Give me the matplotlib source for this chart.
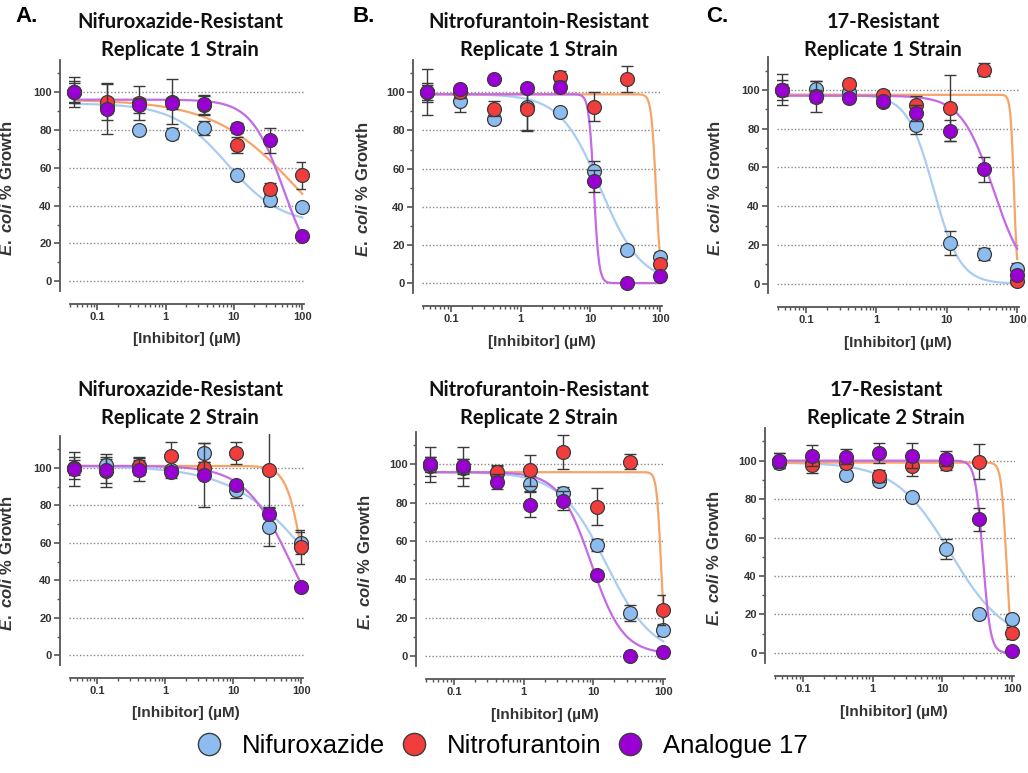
import numpy as np
import matplotlib

matplotlib.use("Agg")
import matplotlib.pyplot as plt
from matplotlib.ticker import FixedLocator, LogLocator, NullFormatter, FixedFormatter
from matplotlib.lines import Line2D

plt.rcParams["font.family"] = ["Liberation Sans", "DejaVu Sans"]
plt.rcParams["mathtext.fontset"] = "custom"
plt.rcParams["mathtext.it"] = "Liberation Sans:italic:bold"
plt.rcParams["mathtext.rm"] = "Liberation Sans:bold"

# 3-fold dilution series (uM)
conc = [0.0457, 0.137, 0.412, 1.23, 3.70, 11.1, 33.3, 100]

compounds = ["Nifuroxazide", "Nitrofurantoin", "Analogue 17"]
marker_colors = ["#8dbdf0", "#f23d3d", "#9a00d4"]
curve_colors = ["#a9cdf2", "#f7a468", "#c46ae4"]

titles = [
    "Nifuroxazide-Resistant\nReplicate 1 Strain",
    "Nitrofurantoin-Resistant\nReplicate 1 Strain",
    "17-Resistant\nReplicate 1 Strain",
    "Nifuroxazide-Resistant\nReplicate 2 Strain",
    "Nitrofurantoin-Resistant\nReplicate 2 Strain",
    "17-Resistant\nReplicate 2 Strain",
]
letters = ["A.", "B.", "C."]

# % growth means and SD, order: Nifuroxazide, Nitrofurantoin, Analogue 17
a1_mean = [[100, 92, 80, 78, 81, 56, 43, 39],
           [100, 95, 94, 95, 93, 72, 49, 56],
           [100, 91, 93, 94, 93.5, 81, 74.5, 24]]
a1_sd = [[6, 3, 2, 3, 3.5, 2, 3, 2],
         [5, 10, 9, 12, 5, 4, 3, 7],
         [8, 13, 4, 3, 5, 2.5, 6.5, 2]]
b1_mean = [[100, 95.5, 86, 92.5, 89.5, 59, 17.5, 13.5],
           [100, 100, 91.5, 91.5, 108, 92.5, 107, 10],
           [100, 101.5, 107, 102.5, 103, 53.5, 0, 3.5]]
b1_sd = [[4, 6, 2, 12, 2, 5, 2, 3],
         [12, 3, 4, 12, 3, 7.5, 7, 2],
         [5, 2, 1, 2, 3, 6, 1, 2]]
c1_mean = [[100, 100.5, 99, 94, 82, 21, 15.5, 7.7],
           [100, 97, 103, 97.5, 92, 90.5, 110.5, 1.5],
           [100, 96.5, 96, 94.5, 88, 79, 59, 4.5]]
c1_sd = [[8, 4, 2, 2, 5, 6, 3, 3],
         [5, 3, 2, 2, 5, 17, 3.5, 2],
         [3, 8, 2, 2, 4, 5.5, 6.5, 2]]
a2_mean = [[100, 101.5, 101, 99, 108, 88, 68.5, 60],
           [100, 98.5, 101, 106.5, 100, 108, 99, 58],
           [99.5, 99, 99, 97.5, 96, 91, 75.5, 36.5]]
a2_sd = [[6, 3, 3, 2, 5, 4, 10, 6],
         [4, 9, 5, 7, 3, 6, 20, 9],
         [9, 7, 6, 3, 17, 2, 3, 2]]
b2_mean = [[99, 98, 95.5, 90, 85, 58, 22.5, 13.5],
           [100, 99, 96, 97, 106.5, 78, 101.5, 24],
           [100, 99, 91, 79, 81, 42.5, 0, 2]]
b2_sd = [[5, 5, 4, 4, 3, 3, 4, 3],
         [4, 4, 3, 8, 9, 9.5, 4, 8],
         [9, 10, 4, 6.5, 5, 2, 1, 2]]
c2_mean = [[99, 99, 92.5, 89.5, 81, 54, 20, 17.5],
           [100, 97.5, 99, 92, 97, 98, 99.5, 10.5],
           [100, 102.5, 102, 104, 102.5, 101, 69.5, 1.2]]
c2_sd = [[3, 3, 2, 2, 2, 5, 2, 3],
         [4, 4, 3, 3, 5, 3, 9, 3],
         [4, 5.5, 4, 5, 6.5, 4, 6, 1]]

# dose-response fits: (top, bottom, IC50 uM, Hill slope)
a1_fit = [(94, 30, 8, 1.1), (96, 0, 90, 0.7), (96, 0, 54, 1.8)]
b1_fit = [(99, 0, 14, 1.5), (99, 0, 87, 13), (99, 0, 11.2, 12)]
c1_fit = [(97.5, 0, 6.5, 2.3), (97.5, 0, 90, 18), (97, 0, 46, 1.9)]
a2_fit = [(101, 0, 150, 0.75), (101, 0, 107, 3.6), (101, 0, 68, 1.3)]
b2_fit = [(96, 0, 15.3, 1.3), (96, 0, 93, 14), (96, 1, 9.3, 1.9)]
c2_fit = [(99, 5, 13, 1.1), (99, 0, 82, 12), (100, 0, 38, 8)]

means = [a1_mean, b1_mean, c1_mean, a2_mean, b2_mean, c2_mean]
sds = [a1_sd, b1_sd, c1_sd, a2_sd, b2_sd, c2_sd]
fits = [a1_fit, b1_fit, c1_fit, a2_fit, b2_fit, c2_fit]

W, H = 1028, 773
# axes boxes in pixels: left, top, width, height
boxes = [(68.5, 58, 236, 246), (421.5, 58, 241, 248), (776.5, 55, 243, 252),
         (68.5, 434, 235, 244), (424.5, 430, 241, 249), (773.5, 426, 241, 250)]
title_x = [180, 539, 883, 180, 539, 886]
title_y = [36, 36, 36, 404, 404, 404]
ylabel_x = [15, 371, 723, 15, 373, 722]
letter_x = [15, 352, 706]


def four_pl(x, top, bottom, ic50, hill):
    return bottom + (top - bottom) / (1 + (x / ic50) ** hill)


fig = plt.figure(figsize=(W / 100, H / 100), dpi=100)
xs = np.logspace(np.log10(conc[0]), np.log10(conc[-1]), 400)

for i in range(6):
    l, t, w, h = boxes[i]
    ax = fig.add_axes([l / W, 1 - (t + h) / H, w / W, h / H])
    ax.set_xscale("log")
    ax.set_xlim(0.038, 108)
    ax.set_ylim(-12, 118)

    for j in range(3):
        ax.plot(xs, four_pl(xs, *fits[i][j]), color=curve_colors[j], lw=1.6, zorder=2)
    for j in range(3):
        ax.errorbar(conc, means[i][j], yerr=sds[i][j], fmt="none", ecolor="#3a3a3a",
                    elinewidth=1.0, capsize=4, capthick=1.0, zorder=3 + j * 2)
        ax.plot(conc, means[i][j], "o", ms=10, mfc=marker_colors[j], mec="#3c3c3c",
                mew=0.9, zorder=4 + j * 2, clip_on=False)

    ax.spines["top"].set_visible(False)
    ax.spines["right"].set_visible(False)
    ax.spines["left"].set_position(("outward", 6))
    ax.spines["left"].set_bounds(-5, 117)
    ax.spines["bottom"].set_bounds(0.04, 105)
    for s in ("left", "bottom"):
        ax.spines[s].set_linewidth(1.3)
        ax.spines[s].set_color("#555555")

    ax.yaxis.set_major_locator(FixedLocator([0, 20, 40, 60, 80, 100]))
    ax.yaxis.set_minor_locator(FixedLocator([10, 30, 50, 70, 90, 110]))
    ax.xaxis.set_major_locator(FixedLocator([0.1, 1, 10, 100]))
    ax.xaxis.set_major_formatter(FixedFormatter(["0.1", "1", "10", "100"]))
    ax.xaxis.set_minor_locator(LogLocator(base=10, subs=np.arange(2, 10)))
    ax.xaxis.set_minor_formatter(NullFormatter())
    ax.tick_params(axis="both", which="major", length=4, width=1.2, color="#555555",
                   labelsize=8, pad=2)
    ax.tick_params(axis="both", which="minor", length=2.5, width=1.0, color="#555555")
    for lab in ax.get_xticklabels() + ax.get_yticklabels():
        lab.set_fontweight("bold")
        lab.set_color("#333333")

    ax.grid(axis="y", linestyle=(0, (1, 1.5)), color="#888888", lw=1.0)
    ax.set_axisbelow(True)

    ax.set_xlabel("[Inhibitor] (µM)", fontsize=11, fontweight="bold", color="#333333")
    ax.xaxis.set_label_coords(0.5, -0.115)
    ax.set_ylabel(r"$\it{E.\ coli}$ % Growth", fontsize=12, fontweight="bold", color="#333333")
    ax.yaxis.set_label_coords((ylabel_x[i] - l) / w, 0.47)

    fig.text(title_x[i] / W, 1 - title_y[i] / H, titles[i], ha="center", va="center",
             fontsize=14.5, fontweight="bold", family=["Lato", "DejaVu Sans"],
             linespacing=1.45, color="#111111")

for k in range(3):
    fig.text(letter_x[k] / W, 1 - 17 / H, letters[k], ha="left", va="center",
             fontsize=16, fontweight="bold")

handles = [Line2D([], [], ls="none", marker="o", ms=16, mfc=c, mec="#3c3c3c", mew=1.0)
           for c in marker_colors]
fig.legend(handles, compounds, loc="center", bbox_to_anchor=(502 / W, 1 - 746 / H),
           ncol=3, frameon=False, fontsize=18.5, handlelength=1.0, handletextpad=0.8,
           columnspacing=0.6)

fig.savefig("out.png", dpi=100)
